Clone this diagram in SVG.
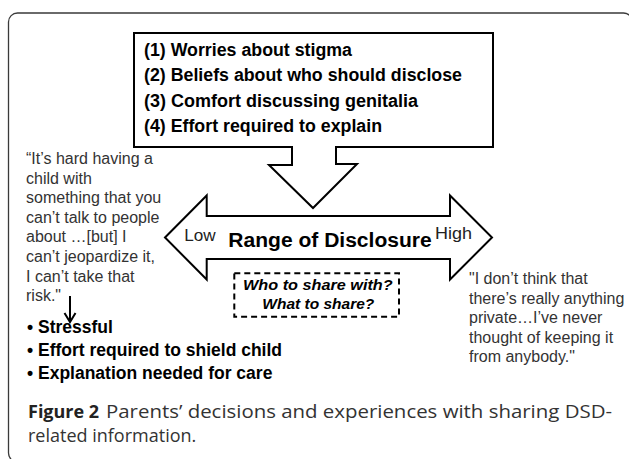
<svg xmlns="http://www.w3.org/2000/svg" width="629" height="459" viewBox="0 0 629 459">
<style>
.frame{fill:none;stroke:#3a3a3a;stroke-width:1.3}
.shape{fill:#fff;stroke:#000;stroke-width:2;stroke-linejoin:miter}
.dash{fill:#fff;stroke:#000;stroke-width:2;stroke-dasharray:6 4}
.bx{font-family:"Liberation Sans",Arial,sans-serif;font-weight:bold;font-size:17.5px;fill:#000}
.q{font-family:"Liberation Sans",Arial,sans-serif;font-size:16px;fill:#333}
.lab{font-family:"Liberation Sans",Arial,sans-serif;font-size:17px;fill:#222}
.big{font-family:"Liberation Sans",Arial,sans-serif;font-weight:bold;font-size:20px;fill:#000}
.it{font-family:"Liberation Sans",Arial,sans-serif;font-weight:bold;font-style:italic;font-size:15px;fill:#000}
.cap{font-family:"Open Sans","Liberation Sans",sans-serif;font-size:18px;fill:#333}
.capb{font-family:"Open Sans","Liberation Sans",sans-serif;font-size:18px;font-weight:bold;fill:#222}
.conn{fill:none;stroke:#000;stroke-width:2}
</style>
<rect class="frame" x="8.5" y="13" width="624" height="449" rx="9"/>
<g id="factors">
<path class="shape" d="M134,33 H493 V147 H336 V164 H357 L313,208 L269,165 H292 V147 H134 Z"/>
<text class="bx" x="144" y="55.5" textLength="208" lengthAdjust="spacingAndGlyphs">(1) Worries about stigma</text>
<text class="bx" x="144" y="81" textLength="318" lengthAdjust="spacingAndGlyphs">(2) Beliefs about who should disclose</text>
<text class="bx" x="144" y="106.5" textLength="274" lengthAdjust="spacingAndGlyphs">(3) Comfort discussing genitalia</text>
<text class="bx" x="144" y="132" textLength="238" lengthAdjust="spacingAndGlyphs">(4) Effort required to explain</text>
</g>
<g id="range">
<path class="shape" d="M165,237.5 L206.7,195.5 V216 H450 V195.5 L492,237.5 L450,279.5 V259 H206.7 V279.5 Z"/>
<text class="lab" x="184.3" y="240.7" textLength="31.4" lengthAdjust="spacingAndGlyphs">Low</text>
<text class="big" x="228.3" y="247.3" textLength="203.4" lengthAdjust="spacingAndGlyphs">Range of Disclosure</text>
<text class="lab" x="435" y="239" textLength="37" lengthAdjust="spacingAndGlyphs">High</text>
</g>
<g id="questions">
<rect class="dash" x="234.3" y="273.3" width="164.7" height="43.4"/>
<text class="it" x="243" y="290" textLength="149.7" lengthAdjust="spacingAndGlyphs">Who to share with?</text>
<text class="it" x="262.3" y="308.5" textLength="112" lengthAdjust="spacingAndGlyphs">What to share?</text>
</g>
<g id="low-quote">
<text class="q"><tspan x="26" y="164">“It’s hard having a</tspan><tspan x="26" y="183.6">child with</tspan><tspan x="26" y="203.2">something that you</tspan><tspan x="26" y="222.8">can’t talk to people</tspan><tspan x="26" y="242.4">about …[but] I</tspan><tspan x="26" y="262">can’t jeopardize it,</tspan><tspan x="26" y="281.6">I can’t take that</tspan><tspan x="26" y="301.2">risk."</tspan></text>
</g>
<g id="high-quote">
<text class="q"><tspan x="469" y="284">"I don’t think that</tspan><tspan x="469" y="303.6">there’s really anything</tspan><tspan x="469" y="323.2">private…I’ve never</tspan><tspan x="469" y="342.8">thought of keeping it</tspan><tspan x="469" y="362.4">from anybody."</tspan></text>
</g>
<g id="consequences">
<text class="bx"><tspan x="27" y="333">• Stressful</tspan><tspan x="27" y="356">• Effort required to shield child</tspan><tspan x="27" y="379">• Explanation needed for care</tspan></text>
</g>
<g id="connectors">
<path class="conn" d="M70,296 V321"/>
<path class="conn" d="M64.5,313 L70,322 L75.5,313"/>
</g>
<g id="caption">
<text class="capb" x="28" y="418">Figure 2</text>
<text class="cap" x="106" y="418" textLength="506" lengthAdjust="spacingAndGlyphs">Parents’ decisions and experiences with sharing DSD-</text>
<text class="cap" x="28" y="442">related information.</text>
</g>
</svg>
